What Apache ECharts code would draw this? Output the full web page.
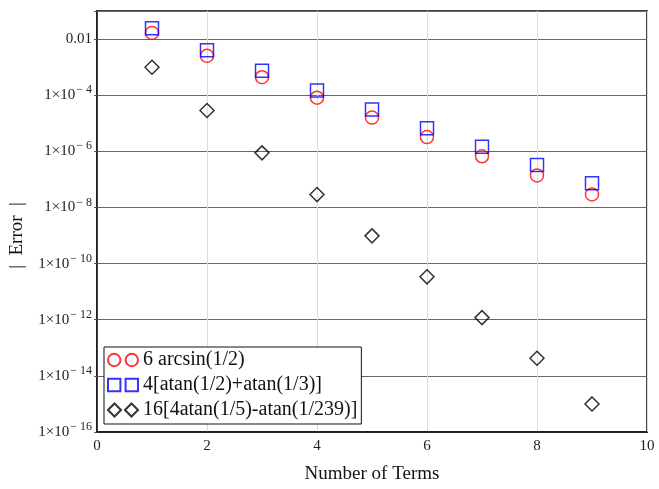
<!DOCTYPE html>
<html>
<head>
<meta charset="utf-8">
<script src="https://cdn.jsdelivr.net/npm/echarts@6/dist/echarts.min.js"></script>
<style>
  html, body { margin: 0; padding: 0; background: #fff; }
  #chart { width: 659px; height: 489px; }
</style>
</head>
<body>
<div id="chart"></div>
<script>
// Number of series terms used in each approximation
const terms = [1, 2, 3, 4, 5, 6, 7, 8, 9];

// |pi - partial sum| for each formula
const errArcsin = [1.659e-2, 2.530e-3, 4.375e-4, 8.148e-5, 1.593e-5, 3.225e-6, 6.677e-7, 1.389e-7, 2.915e-8];
const errAtan23 = [2.431e-2, 3.983e-3, 7.421e-4, 1.485e-4, 3.107e-5, 6.688e-6, 1.469e-6, 3.283e-7, 7.34e-8];
const errMachin = [9.956e-4, 2.838e-5, 8.814e-7, 2.882e-8, 9.745e-10, 3.376e-11, 1.191e-12, 4.261e-14, 1.0e-15];

const seriesNames = ['6 arcsin(1/2)', '4[atan(1/2)+atan(1/3)]', '16[4atan(1/5)-atan(1/239)]'];

const xTicks = [0, 2, 4, 6, 8, 10];

const serif = '"Liberation Serif", "Times New Roman", serif';

// Legend glyphs: each entry shows its marker twice
const iconCircles = 'path://M0.5,6.5A6,6 0 1,1 12.5,6.5A6,6 0 1,1 0.5,6.5Z M17.5,6.5A6,6 0 1,1 29.5,6.5A6,6 0 1,1 17.5,6.5Z';
const iconSquares = 'path://M0.5,0.5L12.5,0.5L12.5,12.5L0.5,12.5Z M17.5,0.5L29.5,0.5L29.5,12.5L17.5,12.5Z';
const iconDiamonds = 'path://M0,6.5L6.5,0L13,6.5L6.5,13Z M17,6.5L23.5,0L30,6.5L23.5,13Z';

function pairs(ys) { return terms.map((t, i) => [t, ys[i]]); }

function logLabel(v) {
  const e = Math.round(Math.log10(v));
  if (e % 2 !== 0) return '';
  if (e === -2) return '{b|0.01}';
  return '{b|1×10}{s|− ' + (-e) + '}';
}

const chart = echarts.init(document.getElementById('chart'), null, { renderer: 'canvas' });

chart.setOption({
  animation: false,
  backgroundColor: '#fff',
  grid: {
    left: 94, right: 12, top: 11, bottom: 57,
    show: true, borderColor: '#444', borderWidth: 2, backgroundColor: 'transparent'
  },
  xAxis: {
    type: 'value',
    min: 0, max: 10, interval: 2,
    name: 'Number of Terms',
    nameLocation: 'middle',
    nameGap: 33,
    nameTextStyle: { fontFamily: serif, fontSize: 19, color: '#111' },
    axisLine: { show: true, lineStyle: { color: '#111', width: 1.5 } },
    axisTick: { show: false },
    axisLabel: {
      fontFamily: serif, fontSize: 15, color: '#222', margin: 7,
      formatter: v => (xTicks.includes(v) ? String(v) : '')
    },
    splitLine: { show: true, lineStyle: { color: '#dcdcdc', width: 1 } }
  },
  yAxis: {
    type: 'log',
    logBase: 10,
    min: 1e-16, max: 1e-1,
    interval: 2,
    name: '|  Error  |',
    nameLocation: 'middle',
    nameGap: 70,
    nameRotate: 90,
    nameTextStyle: { fontFamily: serif, fontSize: 19, color: '#111', padding: [0, 28, 0, 0] },
    axisLine: { show: true, lineStyle: { color: '#111', width: 1.5 } },
    axisTick: { show: true, inside: false, length: 3, lineStyle: { color: '#555' } },
    axisLabel: {
      margin: 5,
      formatter: logLabel,
      rich: {
        b: { fontFamily: serif, fontSize: 15, color: '#222' },
        s: { fontFamily: serif, fontSize: 12, color: '#222', padding: [0, 0, 10, 1] }
      }
    },
    splitLine: { show: true, lineStyle: { color: '#666', width: 1 } }
  },
  legend: {
    orient: 'vertical',
    left: 104, top: 347,
    backgroundColor: '#fff',
    borderColor: '#111', borderWidth: 1,
    padding: [3, 4, 4, 3],
    itemGap: 5,
    itemWidth: 30, itemHeight: 13,
    textStyle: { fontFamily: serif, fontSize: 20, color: '#111', lineHeight: 19 },
    data: [
      { name: seriesNames[0], icon: iconCircles },
      { name: seriesNames[1], icon: iconSquares },
      { name: seriesNames[2], icon: iconDiamonds }
    ]
  },
  series: [
    {
      name: seriesNames[0], type: 'scatter', symbol: 'circle', symbolSize: 13,
      itemStyle: { color: 'rgba(0,0,0,0)', borderColor: '#ff0000', borderWidth: 1.5 },
      data: pairs(errArcsin), z: 2
    },
    {
      name: seriesNames[1], type: 'scatter', symbol: 'rect', symbolSize: 13,
      itemStyle: { color: 'rgba(0,0,0,0)', borderColor: '#0000ff', borderWidth: 1.5 },
      data: pairs(errAtan23), z: 3
    },
    {
      name: seriesNames[2], type: 'scatter', symbol: 'diamond', symbolSize: [14, 14],
      itemStyle: { color: 'rgba(0,0,0,0)', borderColor: '#000000', borderWidth: 1.5 },
      data: pairs(errMachin), z: 2
    }
  ]
});
</script>
</body>
</html>
